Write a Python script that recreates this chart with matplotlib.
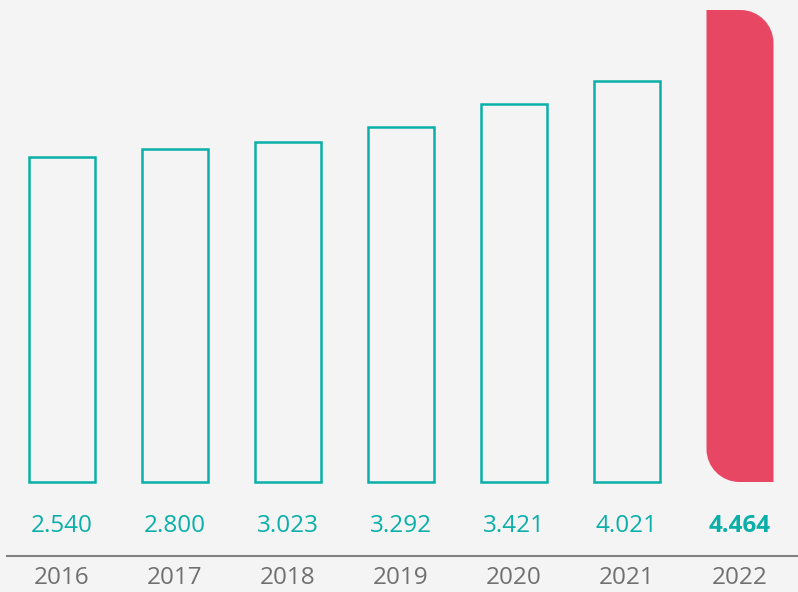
import matplotlib
matplotlib.use("Agg")
import matplotlib.pyplot as plt
from matplotlib.path import Path
from matplotlib.patches import PathPatch, Rectangle

years = ["2016", "2017", "2018", "2019", "2020", "2021", "2022"]
value_labels = ["2.540", "2.800", "3.023", "3.292", "3.421", "4.021", "4.464"]
# bar heights as drawn in the picture (not proportional to the labels)
bar_heights = [325, 333, 340, 355, 378, 401, 472]

teal = "#0AAFA9"
red = "#E84763"
grey = "#707070"
bg = "#F4F4F4"

plt.rcParams["font.family"] = ["Open Sans", "DejaVu Sans"]

fig = plt.figure(figsize=(7.98, 5.92), dpi=100, facecolor=bg)
ax = fig.add_axes([0, 110 / 592, 1, 482 / 592])
ax.set_facecolor(bg)
ax.set_xlim(-62 / 113, (798 - 62) / 113)
ax.set_ylim(0, 482)
ax.axis("off")

w = 66 / 113
for i, h in enumerate(bar_heights[:-1]):
    ax.add_patch(Rectangle((i - w / 2, 0), w, h, fill=False, edgecolor=teal,
                           linewidth=1.8, clip_on=False))

# last bar: rounded top-right and bottom-left corners
i = len(bar_heights) - 1
h = bar_heights[-1]
w2 = 67 / 113
x0, x1 = i - w2 / 2, i + w2 / 2
rx, ry = 33 / 113, 33
k = 0.5523
verts = [
    (x0, h), (x1 - rx, h),
    (x1 - rx + k * rx, h), (x1, h - ry + k * ry), (x1, h - ry),
    (x1, 0), (x0 + rx, 0),
    (x0 + rx - k * rx, 0), (x0, ry - k * ry), (x0, ry),
    (x0, h),
]
codes = [Path.MOVETO, Path.LINETO,
         Path.CURVE4, Path.CURVE4, Path.CURVE4,
         Path.LINETO, Path.LINETO,
         Path.CURVE4, Path.CURVE4, Path.CURVE4,
         Path.CLOSEPOLY]
ax.add_patch(PathPatch(Path(verts, codes), facecolor=red, edgecolor="none",
                       clip_on=False))

for i, (yr, lab) in enumerate(zip(years, value_labels)):
    last = i == len(years) - 1
    ax.text(i, -44, lab, ha="center", va="center", fontsize=17.5, color=teal,
            fontweight="bold" if last else "normal", clip_on=False)
    ax.text(i, -96, yr, ha="center", va="center", fontsize=17.5, color=grey,
            clip_on=False)

ax.plot([-56 / 113, (798 - 62) / 113], [-74, -74], color="#808080",
        linewidth=1.5, clip_on=False, solid_capstyle="butt")

fig.savefig("out.png", dpi=100, facecolor=bg)
